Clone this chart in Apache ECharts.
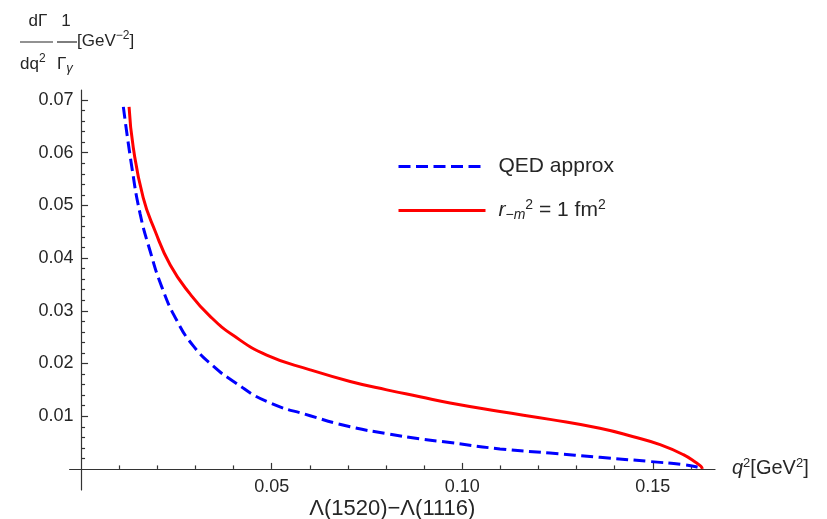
<!DOCTYPE html>
<html>
<head>
<meta charset="utf-8">
<script src="https://cdn.jsdelivr.net/npm/echarts@6/dist/echarts.min.js"></script>
<style>
  html, body { margin: 0; padding: 0; background: #fff; }
  #chart { width: 827px; height: 519px; }
</style>
</head>
<body>
<div id="chart"></div>
<script>
// Λ(1520) → Λ(1116) e+e- : normalised differential width vs q²
const qQed   = [0.0111, 0.0133, 0.0155, 0.0181, 0.0212, 0.0251, 0.0295, 0.0347, 0.0400, 0.0487, 0.0601, 0.0706, 0.0802, 0.0889, 0.0968, 0.1099, 0.1230, 0.1361, 0.1493, 0.1580, 0.1619, 0.1630];
const valQed = [0.0687, 0.0574, 0.0484, 0.0414, 0.0345, 0.0282, 0.0233, 0.0195, 0.0166, 0.0128, 0.0101, 0.0080, 0.0067, 0.0057, 0.0050, 0.0038, 0.0030, 0.0022, 0.0014, 0.0008, 0.0003, 0.0000];

const qFf   = [0.0126, 0.0137, 0.0163, 0.0194, 0.0234, 0.0286, 0.0338, 0.0400, 0.0487, 0.0601, 0.0706, 0.0802, 0.0889, 0.0968, 0.1099, 0.1230, 0.1361, 0.1449, 0.1519, 0.1580, 0.1615, 0.1626, 0.1630];
const valFf = [0.0687, 0.0610, 0.0515, 0.0452, 0.0387, 0.0332, 0.0290, 0.0253, 0.0216, 0.0188, 0.0166, 0.0150, 0.0137, 0.0125, 0.0109, 0.0094, 0.0077, 0.0061, 0.0046, 0.0027, 0.0011, 0.0005, 0.0000];

const xMajorTicks = [0.05, 0.10, 0.15];
const xMinorTicks = [0.01, 0.02, 0.03, 0.04, 0.06, 0.07, 0.08, 0.09, 0.11, 0.12, 0.13, 0.14, 0.16];
const yMajorTicks = [0.01, 0.02, 0.03, 0.04, 0.05, 0.06, 0.07];
const yMinorTicks = [0.002, 0.004, 0.006, 0.008, 0.012, 0.014, 0.016, 0.018, 0.022, 0.024, 0.026, 0.028,
                     0.032, 0.034, 0.036, 0.038, 0.042, 0.044, 0.046, 0.048, 0.052, 0.054, 0.056, 0.058,
                     0.062, 0.064, 0.066, 0.068, 0.072];

const seriesNames = ['QED approx', 'r_-m^2 = 1 fm^2'];

const FONT = 'Liberation Sans, Arial, Helvetica, sans-serif';
const INK = '#262626';
const AXIS = '#333333';

function zip(xs, ys) { return xs.map((x, i) => [x, ys[i]]); }

const chart = echarts.init(document.getElementById('chart'), null, { renderer: 'canvas' });

const option = {
  animation: false,
  backgroundColor: '#ffffff',
  grid: { left: 69.6, right: 112, top: 90, bottom: 29, containLabel: false, outerBoundsMode: 'none' },
  legend: {
    orient: 'vertical',
    left: 392,
    top: 151,
    padding: 5,
    itemWidth: 87,
    itemHeight: 24,
    itemGap: 21,
    data: seriesNames,
    itemStyle: { color: 'rgba(0,0,0,0)', borderWidth: 0, opacity: 0 },
    lineStyle: { width: 3 },
    textStyle: {
      fontFamily: FONT, fontSize: 21, color: INK, padding: [0, 0, 0, 8],
      rich: {
        it: { fontFamily: FONT, fontSize: 21, fontStyle: 'italic', color: INK },
        sub: { fontFamily: FONT, fontSize: 14, color: INK, padding: [9, 0, 0, 0] },
        subit: { fontFamily: FONT, fontSize: 14, fontStyle: 'italic', color: INK, padding: [9, 0, 0, 0] },
        sup: { fontFamily: FONT, fontSize: 14, color: INK, padding: [0, 0, 11, 0] },
        n: { fontFamily: FONT, fontSize: 21, color: INK }
      }
    },
    formatter: function (name) {
      if (name === seriesNames[1]) {
        return '{it|r}{sub|−}{subit|m}{sup|2}{n| = 1 fm}{sup|2}';
      }
      return name;
    }
  },
  xAxis: [
    {
      type: 'value',
      min: -0.003,
      max: 0.1663,
      position: 'bottom',
      name: 'Λ(1520)−Λ(1116)',
      nameLocation: 'middle',
      nameGap: 8,
      nameMoveOverlap: false,
      nameTextStyle: { fontFamily: FONT, fontSize: 22, color: INK },
      axisLine: { show: true, onZero: true, lineStyle: { color: AXIS, width: 1.2 } },
      axisTick: { show: true, inside: true, length: 6, customValues: xMajorTicks, lineStyle: { color: AXIS, width: 1.2 } },
      axisLabel: {
        show: true, customValues: xMajorTicks, margin: -12,
        fontFamily: FONT, fontSize: 18, color: INK,
        formatter: v => v.toFixed(2)
      },
      splitLine: { show: false }
    },
    {
      type: 'value',
      min: -0.003,
      max: 0.1663,
      position: 'bottom',
      name: '{it|q}{sup|2}{n|[GeV}{sup|2}{n|]}',
      nameLocation: 'end',
      nameGap: 17,
      nameTextStyle: {
        fontFamily: FONT, fontSize: 20, color: INK,
        rich: {
          it: { fontFamily: FONT, fontSize: 20, fontStyle: 'italic', color: INK },
          n: { fontFamily: FONT, fontSize: 20, color: INK },
          sup: { fontFamily: FONT, fontSize: 13, color: INK, padding: [0, 0, 11, 0] }
        }
      },
      axisLine: { show: true, onZero: true, lineStyle: { color: AXIS, width: 0, opacity: 0 } },
      axisTick: { show: true, inside: true, length: 3.5, customValues: xMinorTicks, lineStyle: { color: AXIS, width: 1.2 } },
      axisLabel: { show: false },
      splitLine: { show: false }
    }
  ],
  yAxis: [
    {
      type: 'value',
      min: -0.004,
      max: 0.0719,
      position: 'left',
      axisLine: { show: true, onZero: true, lineStyle: { color: AXIS, width: 1.2 } },
      axisTick: { show: true, inside: true, length: 7, customValues: yMajorTicks, lineStyle: { color: AXIS, width: 1.2 } },
      axisLabel: {
        show: true, customValues: yMajorTicks, margin: -4,
        fontFamily: FONT, fontSize: 18, color: INK,
        formatter: v => v.toFixed(2)
      },
      splitLine: { show: false }
    },
    {
      type: 'value',
      min: -0.004,
      max: 0.0719,
      position: 'left',
      axisLine: { show: true, onZero: true, lineStyle: { color: AXIS, width: 0, opacity: 0 } },
      axisTick: { show: true, inside: true, length: 4, customValues: yMinorTicks, lineStyle: { color: AXIS, width: 1.2 } },
      axisLabel: { show: false },
      splitLine: { show: false }
    }
  ],
  graphic: [
    // stacked-fraction y-axis title: dΓ/dq² · 1/Γγ [GeV⁻²]
    { type: 'text', x: 38, y: 21, style: { text: 'dΓ', fontFamily: FONT, fontSize: 17, fill: INK, align: 'center', verticalAlign: 'middle' } },
    { type: 'line', shape: { x1: 20, y1: 42, x2: 53, y2: 42 }, style: { stroke: INK, lineWidth: 1.2 } },
    { type: 'text', x: 66, y: 21, style: { text: '1', fontFamily: FONT, fontSize: 17, fill: INK, align: 'center', verticalAlign: 'middle' } },
    { type: 'line', shape: { x1: 57, y1: 42, x2: 77, y2: 42 }, style: { stroke: INK, lineWidth: 1.2 } },
    {
      type: 'text', x: 77, y: 41,
      style: {
        text: '{n|[GeV}{sup|−2}{n|]}', align: 'left', verticalAlign: 'middle',
        rich: {
          n: { fontFamily: FONT, fontSize: 17, fill: INK },
          sup: { fontFamily: FONT, fontSize: 12, fill: INK, padding: [0, 0, 10, 0] }
        }
      }
    },
    {
      type: 'text', x: 20, y: 64,
      style: {
        text: '{n|dq}{sup|2}', align: 'left', verticalAlign: 'middle',
        rich: {
          n: { fontFamily: FONT, fontSize: 17, fill: INK },
          sup: { fontFamily: FONT, fontSize: 12, fill: INK, padding: [0, 0, 10, 0] }
        }
      }
    },
    {
      type: 'text', x: 57, y: 64,
      style: {
        text: '{n|Γ}{sub|γ}', align: 'left', verticalAlign: 'middle',
        rich: {
          n: { fontFamily: FONT, fontSize: 17, fill: INK },
          sub: { fontFamily: FONT, fontSize: 13, fontStyle: 'italic', fill: INK, padding: [9, 0, 0, 0] }
        }
      }
    }
  ],
  series: [
    {
      name: seriesNames[0],
      type: 'line',
      xAxisIndex: 0,
      yAxisIndex: 0,
      data: zip(qQed, valQed),
      symbol: 'none',
      smooth: 0.5,
      lineStyle: { color: '#0000ff', width: 3, type: [12, 5.5] },
      itemStyle: { color: '#0000ff' },
      z: 3
    },
    {
      name: seriesNames[1],
      type: 'line',
      xAxisIndex: 0,
      yAxisIndex: 0,
      data: zip(qFf, valFf),
      symbol: 'none',
      smooth: 0.5,
      lineStyle: { color: '#ff0000', width: 3 },
      itemStyle: { color: '#ff0000' },
      z: 2
    }
  ]
};

chart.setOption(option);
</script>
</body>
</html>
